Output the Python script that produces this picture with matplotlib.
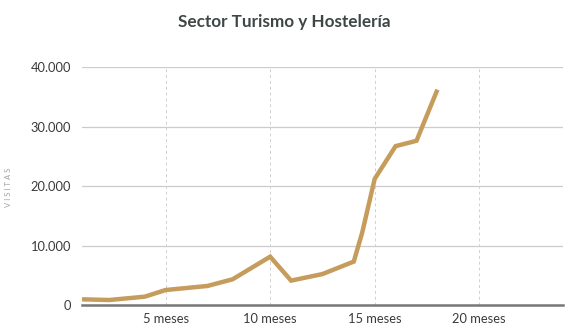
import numpy as np
import matplotlib
matplotlib.use('Agg')
from matplotlib import pyplot as plt
from matplotlib.ticker import FuncFormatter

# months since start vs. number of visits
meses = [1, 2.3, 4, 5, 7, 8.2, 10, 11, 12.5, 14, 14.4, 15, 16, 17, 18]
visitas = [960, 840, 1400, 2520, 3200, 4320, 8120, 4100, 5200, 7300, 12150, 21200, 26700, 27600, 36200]

xticks = [5, 10, 15, 20]
xlabels = ['5 meses', '10 meses', '15 meses', '20 meses']
yticks = [0, 10000, 20000, 30000, 40000]

plt.rcParams['font.family'] = ['Lato', 'DejaVu Sans']

fig = plt.figure(figsize=(5.72, 3.32), dpi=100)
ax = fig.add_axes([0.1434, 0.0813, 0.8406, 0.7169])

ax.plot(meses, visitas, color='#c69c5d', linewidth=3.2, solid_capstyle='butt',
        solid_joinstyle='miter', zorder=3)

ax.set_xlim(1, 24)
ax.set_ylim(0, 40000)
ax.set_xticks(xticks)
ax.set_xticklabels(xlabels)
ax.set_yticks(yticks)
ax.yaxis.set_major_formatter(FuncFormatter(lambda v, p: f'{int(v):,}'.replace(',', '.')))

for s in ['top', 'right', 'left']:
    ax.spines[s].set_visible(False)
ax.spines['bottom'].set_color('#777777')
ax.spines['bottom'].set_linewidth(1.8)

for y in yticks[1:]:
    ax.axhline(y, color='#cccccc', linewidth=0.9, zorder=1)
for x in xticks:
    ax.axvline(x, color='#d0d0d0', linewidth=0.7, linestyle=(0, (3, 3)), zorder=1)

ax.tick_params(axis='both', length=0, labelsize=9.3, colors='#3a3a3a')
ax.tick_params(axis='y', pad=8)
ax.tick_params(axis='x', pad=6)

fig.text(0.497, 0.935, 'Sector Turismo y Hostelería', ha='center', va='center',
         fontsize=12.3, fontweight='bold', color='#3f4646')
fig.text(0.015, 0.435, 'V I S I T A S', rotation=90, ha='center', va='center',
         fontsize=5.5, color='#a0a0a0')

plt.savefig('out.png', dpi=100)
